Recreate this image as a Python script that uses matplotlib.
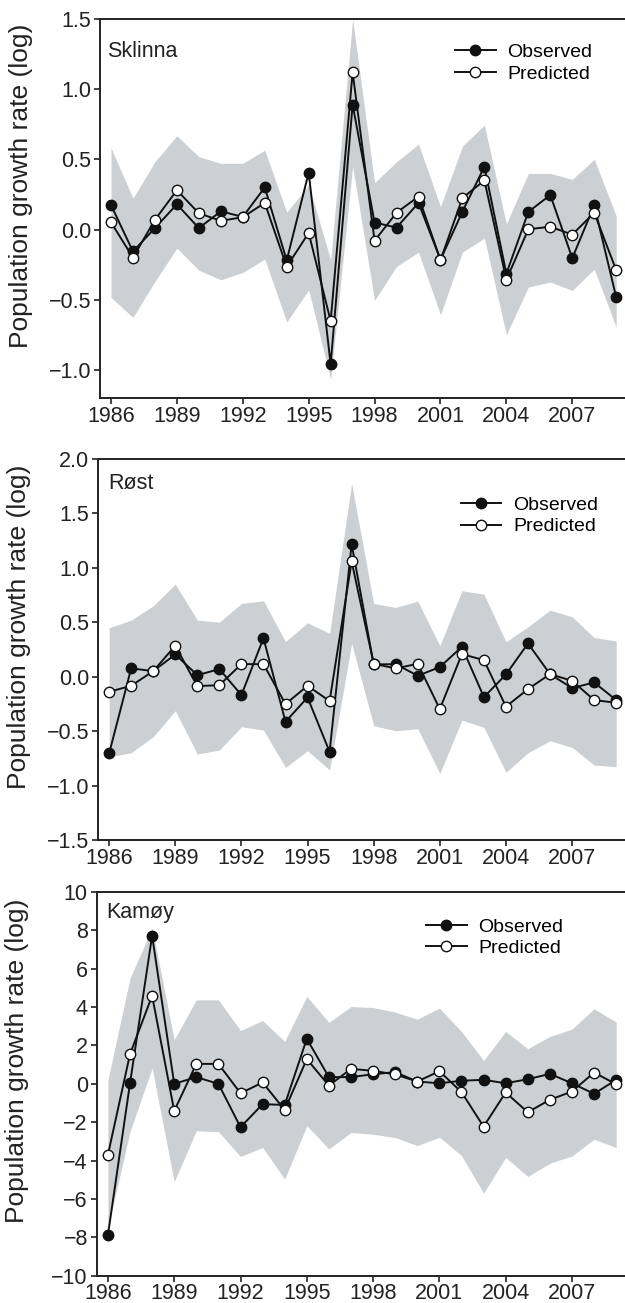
import matplotlib
matplotlib.use('Agg')
from matplotlib import pyplot as plt
from matplotlib.lines import Line2D

plt.rcParams['font.family'] = ['Liberation Sans', 'DejaVu Sans']

years = list(range(1986, 2010))

# Sklinna
sk_obs = [0.175, -0.156, 0.01, 0.18, 0.01, 0.13, 0.09, 0.30, -0.22, 0.405, -0.96, 0.89,
          0.05, 0.014, 0.19, -0.215, 0.128, 0.448, -0.315, 0.126, 0.246, -0.204, 0.173, -0.483]
sk_pred = [0.052, -0.2, 0.069, 0.28, 0.116, 0.062, 0.088, 0.19, -0.265, -0.024, -0.652, 1.12,
           -0.08, 0.12, 0.235, -0.218, 0.225, 0.35, -0.358, 0.002, 0.02, -0.036, 0.12, -0.29]
sk_hi = [0.583, 0.223, 0.483, 0.668, 0.519, 0.472, 0.472, 0.566, 0.123, 0.318, -0.216, 1.5,
         0.334, 0.483, 0.609, 0.164, 0.595, 0.744, 0.04, 0.4, 0.4, 0.358, 0.5, 0.097]
sk_lo = [-0.483, -0.626, -0.37, -0.133, -0.29, -0.358, -0.306, -0.21, -0.659, -0.429, -1.07, 0.45,
         -0.505, -0.263, -0.161, -0.607, -0.161, -0.062, -0.749, -0.41, -0.374, -0.434, -0.282, -0.697]

# Røst
ro_obs = [-0.704, 0.077, 0.052, 0.205, 0.015, 0.07, -0.168, 0.355, -0.413, -0.19, -0.689, 1.218,
          0.113, 0.116, 0.009, 0.089, 0.275, -0.187, 0.021, 0.306, 0.024, -0.104, -0.052, -0.214]
ro_pred = [-0.138, -0.083, 0.052, 0.285, -0.086, -0.077, 0.116, 0.116, -0.251, -0.083, -0.223, 1.059,
           0.119, 0.077, 0.119, -0.297, 0.208, 0.153, -0.275, -0.113, 0.024, -0.037, -0.214, -0.239]
ro_hi = [0.45, 0.52, 0.652, 0.851, 0.52, 0.502, 0.673, 0.698, 0.324, 0.496, 0.398, 1.775,
         0.673, 0.637, 0.695, 0.285, 0.79, 0.759, 0.321, 0.459, 0.612, 0.551, 0.361, 0.328]
ro_lo = [-0.735, -0.698, -0.551, -0.312, -0.71, -0.673, -0.459, -0.49, -0.833, -0.68, -0.857, 0.306,
         -0.45, -0.496, -0.478, -0.888, -0.398, -0.465, -0.878, -0.698, -0.588, -0.649, -0.811, -0.826]

# Kamøy
ka_obs = [-7.88, 0.03, 7.72, 0.0, 0.35, 0.0, -2.26, -1.06, -1.1, 2.35, 0.35, 0.35,
          0.5, 0.61, 0.12, 0.03, 0.16, 0.21, 0.03, 0.24, 0.52, 0.03, -0.52, 0.21]
ka_pred = [-3.7, 1.55, 4.59, -1.41, 1.04, 1.04, -0.49, 0.07, -1.36, 1.29, -0.09, 0.78,
           0.68, 0.49, 0.12, 0.66, -0.43, -2.23, -0.45, -1.48, -0.83, -0.4, 0.59, -0.02]
ka_hi = [0.21, 5.51, 8.12, 2.3, 4.38, 4.38, 2.78, 3.3, 2.21, 4.56, 3.2, 4.03,
         3.98, 3.74, 3.37, 3.95, 2.73, 1.22, 2.73, 1.83, 2.47, 2.85, 3.91, 3.22]
ka_lo = [-7.5, -2.49, 0.82, -5.1, -2.45, -2.49, -3.79, -3.32, -4.97, -2.19, -3.39, -2.54,
         -2.63, -2.8, -3.22, -2.78, -3.74, -5.7, -3.84, -4.83, -4.14, -3.76, -2.89, -3.32]

panels = [
    ('Sklinna', sk_obs, sk_pred, sk_hi, sk_lo, (-1.2, 1.5), [-1.0, -0.5, 0.0, 0.5, 1.0, 1.5], '%.1f'),
    ('Røst', ro_obs, ro_pred, ro_hi, ro_lo, (-1.5, 2.0), [-1.5, -1.0, -0.5, 0.0, 0.5, 1.0, 1.5, 2.0], '%.1f'),
    ('Kamøy', ka_obs, ka_pred, ka_hi, ka_lo, (-10, 10), list(range(-10, 11, 2)), '%d'),
]

# axes boxes in figure fractions [left, bottom, width, height]
boxes = [
    [0.160, 0.6946, 0.840, 0.2908],
    [0.157, 0.3553, 0.843, 0.2924],
    [0.155, 0.0210, 0.845, 0.2944],
]
legend_pos = [(0.676, 0.935), (0.688, 0.902), (0.623, 0.932)]
title_pos = [(0.013, 0.914), (0.02, 0.936), (0.017, 0.946)]

band_col = '#cdd0d3'

fig = plt.figure(figsize=(6.25, 13.03), dpi=100)

for i, (name, obs, pred, hi, lo, ylim, yticks, fmt) in enumerate(panels):
    ax = fig.add_axes(boxes[i])
    ax.fill_between(years, lo, hi, color=band_col, lw=0, zorder=1)
    ax.plot(years, obs, '-o', color='#111111', lw=1.4, ms=7.5,
            mfc='#111111', mec='#111111', zorder=3)
    ax.plot(years, pred, '-o', color='#111111', lw=1.4, ms=7.5,
            mfc='white', mec='#111111', mew=1.0, zorder=4)

    ax.set_xlim(1985.5, 2009.4)
    ax.set_ylim(*ylim)
    ax.set_xticks(list(range(1986, 2008, 3)))
    ax.set_yticks(yticks)
    ax.set_yticklabels([(fmt % v).replace('-', '\u2212') for v in yticks])

    ax.spines['right'].set_visible(False)
    for s in ['left', 'bottom', 'top']:
        ax.spines[s].set_linewidth(1.4)
        ax.spines[s].set_color('#222222')
    ax.tick_params(direction='out', length=4.5, width=1.2, labelsize=15.5,
                   colors='#222222', pad=2)
    ax.tick_params(axis='x', pad=1)

    ax.set_ylabel('Population growth rate (log)', fontsize=19, color='#222222')
    ax.yaxis.set_label_coords(-0.128, 0.56)

    tx, ty = title_pos[i]
    ax.text(tx, ty, name, transform=ax.transAxes, fontsize=15.5, va='center',
            ha='left', color='#222222')

    handles = [
        Line2D([], [], color='#111111', lw=1.4, marker='o', ms=7.5,
               mfc='#111111', mec='#111111'),
        Line2D([], [], color='#111111', lw=1.4, marker='o', ms=7.5,
               mfc='white', mec='#111111'),
    ]
    ax.legend(handles, ['Observed', 'Predicted'], loc='upper left',
              bbox_to_anchor=legend_pos[i], frameon=False, fontsize=14,
              handlelength=2.1, handletextpad=0.6, labelspacing=0.2,
              borderpad=0, borderaxespad=0)

fig.savefig('out.png', dpi=100)
